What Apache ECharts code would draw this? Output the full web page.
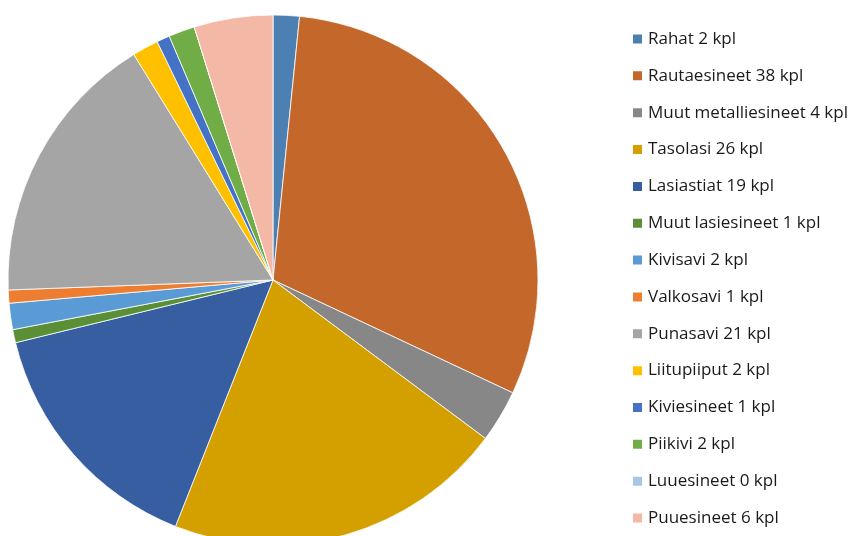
<!DOCTYPE html>
<html><head><meta charset="utf-8">
<script src="https://cdn.jsdelivr.net/npm/echarts@6/dist/echarts.min.js"></script>
<style>html,body{margin:0;padding:0;background:#fff}#c{width:865px;height:536px}</style>
</head><body><div id="c"></div>
<script>
const categories = ["Rahat","Rautaesineet","Muut metalliesineet","Tasolasi","Lasiastiat","Muut lasiesineet","Kivisavi","Valkosavi","Punasavi","Liitupiiput","Kiviesineet","Piikivi","Luuesineet","Puuesineet"];
const values = [2,38,4,26,19,1,2,1,21,2,1,2,0,6];
const colors = ["#4D80B2","#C4672A","#878787","#D4A000","#365EA0","#5A8F36","#5B9BD5","#ED7D31","#A5A5A5","#FFC000","#4472C4","#70AD47","#A9C4E6","#F4B9A6"];
const chart = echarts.init(document.getElementById('c'));
chart.setOption({
  animation:false,
  color: colors,
  legend:{
    orient:'vertical', left:631, top:29, height:520, padding:0,
    itemWidth:11, itemHeight:11, itemGap:16.85,
    icon:'rect',
    formatter: name => name + ' ' + values[categories.indexOf(name)] + ' kpl',
    textStyle:{fontFamily:'Open Sans', fontSize:17, color:'#1a1a1a', lineHeight:20}
  },
  series:[{
    type:'pie', center:[273,280], radius:265, startAngle:90, clockwise:true,
    label:{show:false}, labelLine:{show:false},
    itemStyle:{borderColor:'#fff', borderWidth:0.8},
    minAngle:0, stillShowZeroSum:true,
    data: categories.map((n,i)=>({name:n, value:values[i]}))
  }]
});
</script></body></html>
